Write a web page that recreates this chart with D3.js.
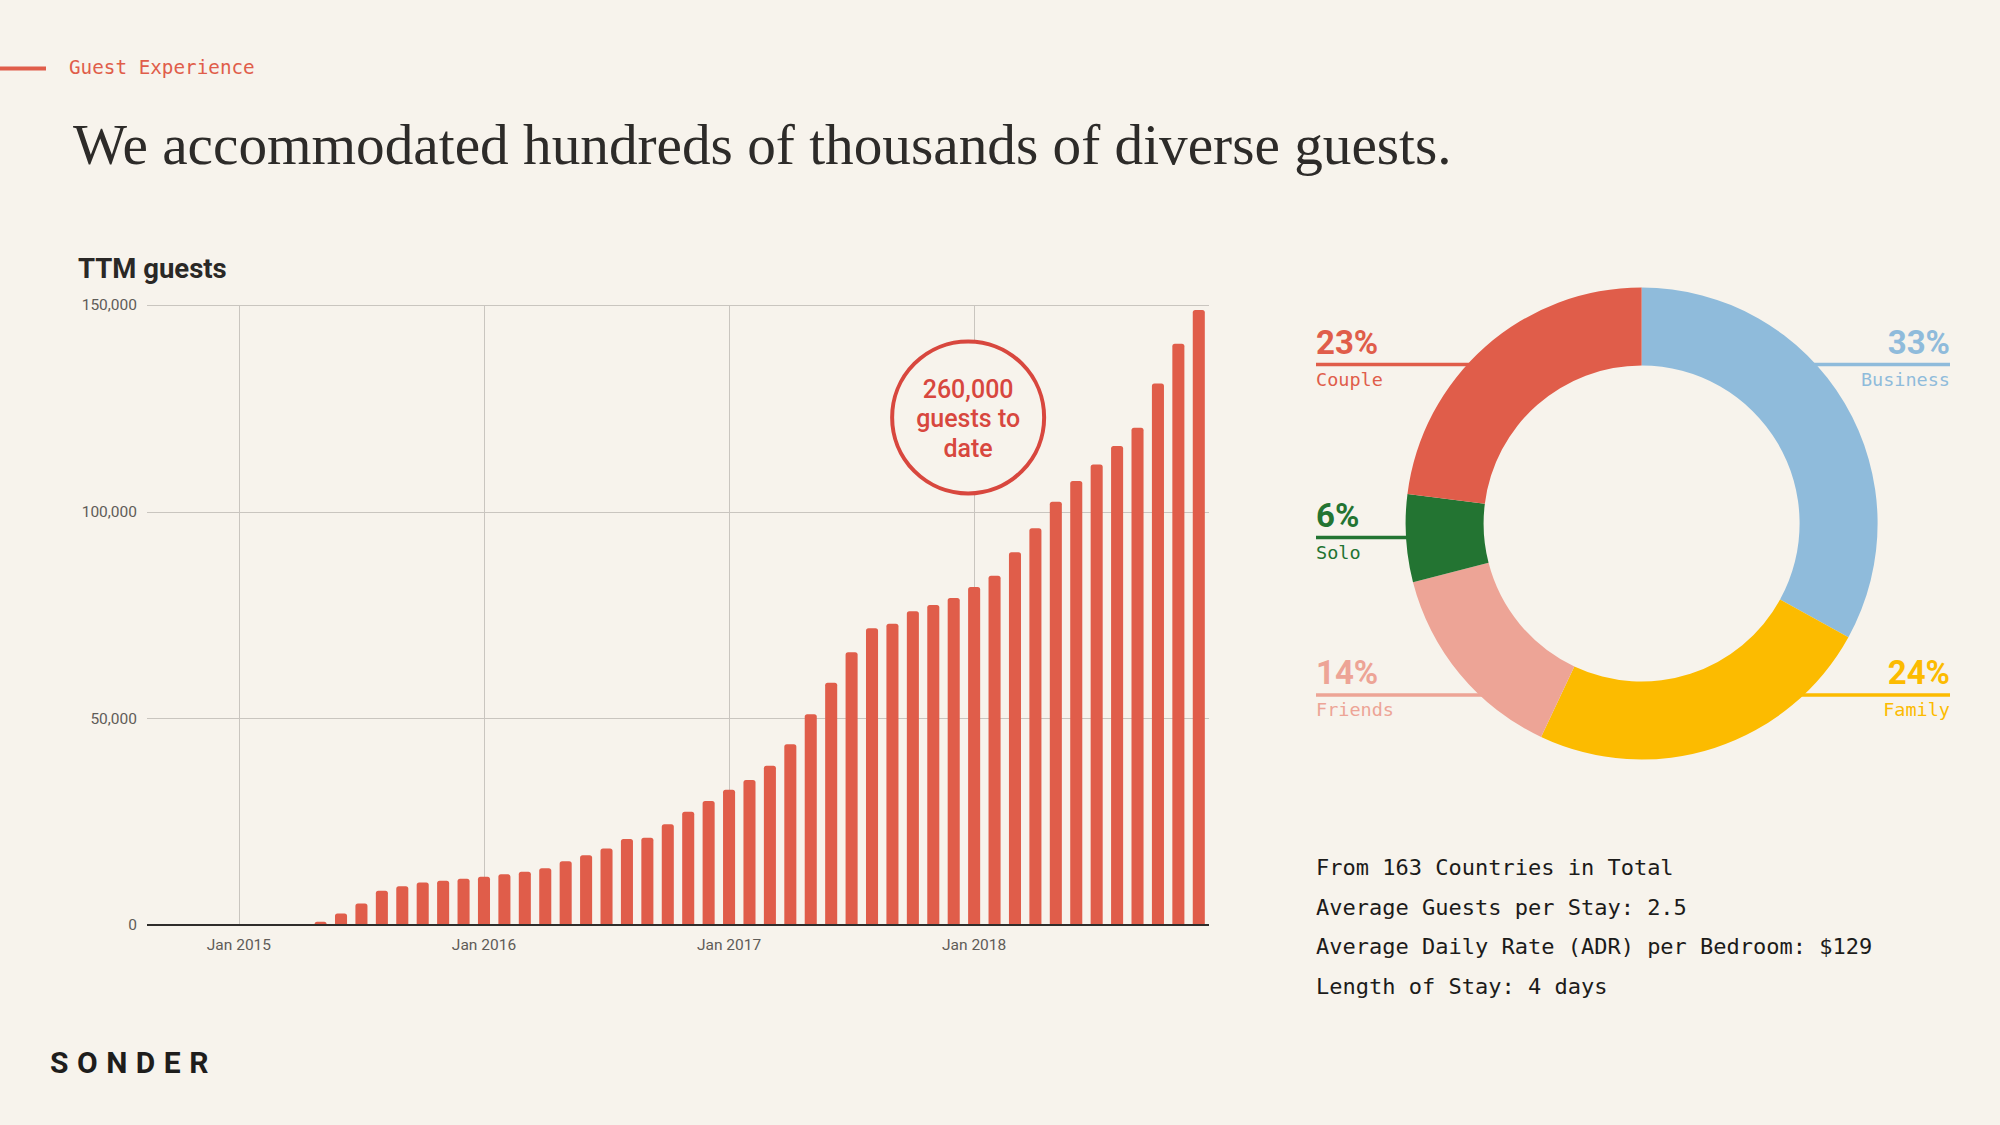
<!DOCTYPE html>
<html><head><meta charset="utf-8">
<script src="https://cdn.jsdelivr.net/npm/d3@7"></script>
<style>
html,body{margin:0;padding:0;background:#f7f3ec;}
svg{display:block}
</style></head><body>
<svg id="c" width="2000" height="1125"></svg>
<script>
// ---------- DATA ----------
const months = [
  "2014-09","2014-10","2014-11","2014-12",
  "2015-01","2015-02","2015-03","2015-04","2015-05","2015-06","2015-07","2015-08","2015-09","2015-10","2015-11","2015-12",
  "2016-01","2016-02","2016-03","2016-04","2016-05","2016-06","2016-07","2016-08","2016-09","2016-10","2016-11","2016-12",
  "2017-01","2017-02","2017-03","2017-04","2017-05","2017-06","2017-07","2017-08","2017-09","2017-10","2017-11","2017-12",
  "2018-01","2018-02","2018-03","2018-04","2018-05","2018-06","2018-07","2018-08","2018-09","2018-10","2018-11","2018-12"
];
const guests = [
  0,0,0,0,
  0,0,100,150,800,2800,5200,8300,9400,10300,10700,11200,
  11700,12300,12900,13700,15400,16900,18500,20800,21100,24400,27400,30000,
  32700,35100,38500,43700,51000,58600,66000,71800,72900,75900,77400,79100,
  81800,84500,90200,96000,102400,107400,111400,115900,120300,131000,140600,148800
];
const yTicks = [0, 50000, 100000, 150000];
const xTickMonths = ["2015-01","2016-01","2017-01","2018-01"];
const xTickLabels = ["Jan 2015","Jan 2016","Jan 2017","Jan 2018"];
const totalGuestsText = ["260,000","guests to","date"];

const segments = ["Business","Family","Friends","Solo","Couple"];
const shares   = [33, 24, 14, 6, 23];
const segColors = ["#8fbbdb","#fcbb00","#eda496","#237432","#e05d4a"];

const stats = [
  "From 163 Countries in Total",
  "Average Guests per Stay: 2.5",
  "Average Daily Rate (ADR) per Bedroom: $129",
  "Length of Stay: 4 days"
];

// ---------- LAYOUT ----------
const RED = "#e05d4a";
const svg = d3.select("#c");
svg.append("rect").attr("width",2000).attr("height",1125).attr("fill","#f7f3ec");

// header
svg.append("rect").attr("x",0).attr("y",66.5).attr("width",46).attr("height",4).attr("fill",RED);
svg.append("text").attr("x",69).attr("y",73.5)
  .attr("font-family","'DejaVu Sans Mono', monospace").attr("font-size",19.3)
  .attr("fill",RED).text("Guest Experience");

const head = svg.append("text").attr("x",73).attr("y",164)
  .attr("font-family","'Liberation Serif', serif").attr("font-size",56)
  .attr("fill","#2d2b29").text("We accommodated hundreds of thousands of diverse guests.");
{
  const L = head.node().getComputedTextLength();
  head.attr("font-size", 56 * 1379 / L);
}

// chart title
svg.append("text").attr("x",78).attr("y",277.5)
  .attr("font-family","Roboto, sans-serif").attr("font-weight",700).attr("font-size",27.5)
  .attr("fill","#2a2826").text("TTM guests");

// scales
const plot = {left:147, right:1209, top:305, bottom:925};
const x = d3.scaleBand().domain(months).range([plot.left, plot.right])
  .paddingInner(0.41).paddingOuter(0.205);
const y = d3.scaleLinear().domain([0,150000]).range([plot.bottom, plot.top]);
const xc = m => x(m) + x.bandwidth()/2;

// horizontal grid
svg.append("g").selectAll("line").data(yTicks.filter(d=>d>0)).join("line")
  .attr("x1",plot.left).attr("x2",plot.right)
  .attr("y1",d=>Math.round(y(d))+0.5).attr("y2",d=>Math.round(y(d))+0.5)
  .attr("stroke","#c9c5bf").attr("stroke-width",1);
// vertical grid
svg.append("g").selectAll("line").data(xTickMonths).join("line")
  .attr("x1",d=>Math.round(xc(d))+0.5).attr("x2",d=>Math.round(xc(d))+0.5)
  .attr("y1",plot.top).attr("y2",plot.bottom)
  .attr("stroke","#c9c5bf").attr("stroke-width",1);

// y axis labels
const yAxis = d3.axisLeft(y).tickValues(yTicks).tickFormat(d3.format(",")).tickSize(0).tickPadding(10);
const gy = svg.append("g").attr("transform",`translate(${plot.left},0)`).call(yAxis);
gy.select(".domain").remove();
gy.selectAll("text").attr("font-family","Roboto, sans-serif").attr("font-size",15.5).attr("fill","#5f5c58");

// x axis labels
const xAxis = d3.axisBottom(x).tickValues(xTickMonths)
  .tickFormat(m => xTickLabels[xTickMonths.indexOf(m)]).tickSize(0).tickPadding(14);
const gx = svg.append("g").attr("transform",`translate(0,${plot.bottom})`).call(xAxis);
gx.select(".domain").remove();
gx.selectAll("text").attr("font-family","Roboto, sans-serif").attr("font-size",15.5).attr("fill","#5f5c58");

// bars
function barPath(bx, by, w, h, r){
  r = Math.min(r, h, w/2);
  return `M${bx},${by+h}V${by+r}Q${bx},${by} ${bx+r},${by}H${bx+w-r}Q${bx+w},${by} ${bx+w},${by+r}V${by+h}Z`;
}
const barData = months.map((m,i)=>({m, v:guests[i]})).filter(d=>d.v>0);
svg.append("g").selectAll("path").data(barData).join("path")
  .attr("d", d => barPath(x(d.m), y(d.v), x.bandwidth(), y(0)-y(d.v), 2.5))
  .attr("fill", RED);

// baseline
svg.append("line").attr("x1",plot.left).attr("x2",plot.right)
  .attr("y1",y(0)).attr("y2",y(0)).attr("stroke","#2f2d2b").attr("stroke-width",2);

// annotation circle
const acx = xc("2018-01") - 6, acy = y(122800);
svg.append("circle").attr("cx",acx).attr("cy",acy).attr("r",76)
  .attr("fill","#f7f3ec").attr("stroke","#d8473e").attr("stroke-width",4);
svg.append("g").selectAll("text").data(totalGuestsText).join("text")
  .attr("x",acx).attr("y",(d,i)=>acy - 19.5 + i*29.5)
  .attr("text-anchor","middle").attr("font-family","Roboto, sans-serif")
  .attr("font-weight",500).attr("font-size",25).attr("fill","#d8473e").text(d=>d);

// ---------- DONUT ----------
const dcx = 1641.6, dcy = 523.5, R = 236, r0 = 158;
const pie = d3.pie().sort(null).value(d=>d.v);
const arcs = pie(segments.map((s,i)=>({s, v:shares[i], c:segColors[i]})));
const arc = d3.arc().innerRadius(r0).outerRadius(R);

// label layout (offset of leader line from donut centre, side)
const labelLayout = {
  Business:{side:"right", dy:-159},
  Family:{side:"right", dy:171.5},
  Friends:{side:"left", dy:171.5},
  Solo:{side:"left", dy:14},
  Couple:{side:"left", dy:-159}
};
const leftX = 1316, rightX = 1950;
const lg = svg.append("g");
arcs.forEach(a=>{
  const L = labelLayout[a.data.s];
  const ly = dcy + L.dy;
  const edge = Math.sqrt(R*R - L.dy*L.dy);
  const tx = L.side==="left" ? leftX : rightX;
  const ex = L.side==="left" ? dcx - edge + 4 : dcx + edge - 4;
  lg.append("line").attr("x1",tx).attr("x2",ex).attr("y1",ly).attr("y2",ly)
    .attr("stroke",a.data.c).attr("stroke-width",3.5);
  lg.append("text").attr("x",tx).attr("y",ly-11)
    .attr("text-anchor",L.side==="left"?"start":"end")
    .attr("font-family","Roboto, sans-serif").attr("font-weight",700).attr("font-size",33)
    .attr("fill",a.data.c).text(a.data.v+"%");
  lg.append("text").attr("x",tx).attr("y",ly+21)
    .attr("text-anchor",L.side==="left"?"start":"end")
    .attr("font-family","'DejaVu Sans Mono', monospace").attr("font-size",18.5)
    .attr("fill",a.data.c).text(a.data.s);
});
svg.append("g").attr("transform",`translate(${dcx},${dcy})`)
  .selectAll("path").data(arcs).join("path")
  .attr("d",arc).attr("fill",d=>d.data.c);

// stats
svg.append("g").selectAll("text").data(stats).join("text")
  .attr("x",1316).attr("y",(d,i)=>875 + i*39.7)
  .attr("font-family","'DejaVu Sans Mono', monospace").attr("font-size",22)
  .attr("fill","#1c1b1a").text(d=>d);

// logo
svg.append("text").attr("x",50).attr("y",1073)
  .attr("font-family","Roboto, sans-serif").attr("font-weight",700).attr("font-size",30)
  .attr("letter-spacing",8.5).attr("fill","#1e1d1c").text("SONDER");
</script>
</body></html>
